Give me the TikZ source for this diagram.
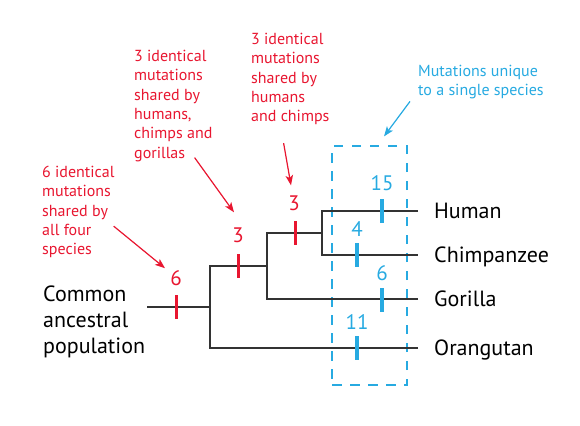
\documentclass[tikz,border=0pt]{standalone}
\usepackage{fontspec}
\setmainfont{PT Sans}
\usetikzlibrary{arrows.meta, positioning}
\definecolor{myRed}{RGB}{232,22,48}
\definecolor{myBlue}{RGB}{39,170,225}
\definecolor{myGray}{RGB}{51,51,51}

\begin{document}
\begin{tikzpicture}[x=1pt, y=-1pt,
                    my rule/.style={line width=1.3pt, draw=myGray},
                    my red tick/.style={line width=3pt, draw=myRed},
                    my blue tick/.style={line width=3.5pt, draw=myBlue},
                    my note/.style={align=left, anchor=north west, inner sep=0,
                      font=\fontsize{16}{19.3}\selectfont},
                    my red num/.style={color=myRed, inner sep=0,
                      font=\fontsize{21}{24}\selectfont},
                    my blue num/.style={my red num, color=myBlue},
                    my species/.style={anchor=west, inner sep=0,
                      text height=15pt, text depth=0pt,
                      font=\fontsize{22}{26}\selectfont},
                    my red arrow/.style={
                      -{Stealth[length=10pt, width=7.5pt, inset=2.5pt]},
                      line width=1.2pt, draw=myRed, fill=myRed},
                    my blue arrow/.style={my red arrow, draw=myBlue, fill=myBlue}]

\useasboundingbox (0,0) rectangle (580,425);

% les noeuds du cladogramme
\coordinate (j1) at (210,307);
\coordinate (j2) at (267,266);
\coordinate (j3) at (322,233);

\node[my species] (human) at (434,211) {Human};
\node[my species] (chimp) at (434,255) {Chimpanzee};
\node[my species] (gorilla) at (434,299) {Gorilla};
\node[my species] (orang) at (434,348) {Orangutan};

\node[align=left, anchor=north west, inner sep=0,
      font=\fontsize{22}{26}\selectfont] (common) at (43,286)
  {Common\\ancestral\\population};

\node[draw=myBlue, line width=1.2pt, dash pattern=on 9.5pt off 8.5pt,
      minimum width=75pt, minimum height=239pt] (unique) at (369.5,265.5) {};

\begin{scope}[my rule]
\draw ([xshift=2pt]common.east |- j1) -- (j1);
\draw[shorten <=16pt] (orang.west) -| (j1) |- (j2);
\draw[shorten <=16pt] (gorilla.west) -| (j2) |- (j3);
\draw[shorten <=16pt, shorten >=16pt] (human.west) -| (j3) |- (chimp.west);
\end{scope}

% mutations communes
\draw[my red tick] (176,295) -- (176,319);
\draw[my red tick] (238.5,254) -- (238.5,278);
\draw[my red tick] (295,221) -- (295,245);
\node[my red num] (six) at (176,278) {6};
\node[my red num] (threeA) at (238,235) {3};
\node[my red num] (threeB) at (294,203) {3};

% mutations propres
\draw[my blue tick] (382,199) -- (382,223);
\draw[my blue tick] (357,243) -- (357,267);
\draw[my blue tick] (382,288) -- (382,312);
\draw[my blue tick] (357,336) -- (357,360);
\node[my blue num] (fifteen) at (382,183) {15};
\node[my blue num] (four) at (357,229) {4};
\node[my blue num] (sixB) at (382,273) {6};
\node[my blue num] (eleven) at (357,322) {11};

\node[my note, color=myRed] (allfour) at (42,166)
  {6 identical\\mutations\\shared by\\all four\\species};
\node[my note, color=myRed] (gorillas) at (134,50)
  {3 identical\\mutations\\shared by\\humans,\\chimps and\\gorillas};
\node[my note, color=myRed] (chimps) at (251,33)
  {3 identical\\mutations\\shared by\\humans\\and chimps};
\node[my note, color=myBlue] (single) at (418,65)
  {Mutations unique\\to a single species};

\draw[my red arrow] ([shift={(-1,-32)}]allfour.south east) --
                    ([shift={(-11,-2)}]six.north);
\draw[my red arrow] ([shift={(-18,-4)}]gorillas.south east) --
                    ([shift={(-4,-15)}]threeA.north);
\draw[my red arrow] ([shift={(-46,18)}]chimps.south east) --
                    ([shift={(-3,-10)}]threeB.north);
\draw[my blue arrow] ([shift={(-8,2)}]single.south west) --
                     ([shift={(14.5,-9)}]unique.north);
\end{tikzpicture}
\end{document}
